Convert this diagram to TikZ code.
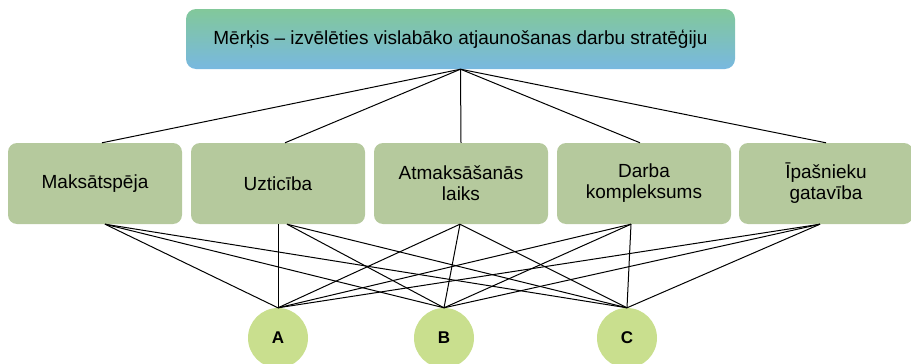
\documentclass[tikz,border=0pt]{standalone}
\usepackage{fontspec}
\setmainfont{Liberation Sans}
\definecolor{topgreen}{HTML}{82C89A}
\definecolor{topblue}{HTML}{78B8E0}
\definecolor{critfill}{HTML}{B5C99D}
\definecolor{altfill}{HTML}{C9DF8E}
\tikzset{
  goalbox/.style={rounded corners=10pt, top color=topgreen, bottom color=topblue, draw=none,
    minimum width=549pt, minimum height=60pt, inner sep=0pt,
    font=\fontsize{19}{21}\selectfont},
  critbox/.style={rounded corners=9pt, fill=critfill, draw=none,
    minimum width=174pt, minimum height=81pt, inner sep=0pt, align=center,
    font=\fontsize{19}{21}\selectfont},
  altnode/.style={circle, fill=altfill, draw=none, minimum size=60pt, inner sep=0pt,
    font=\fontsize{17}{20}\selectfont\bfseries},
  link/.style={draw=black, line width=1pt}
}
\begin{document}
\begin{tikzpicture}[x=1pt,y=-1pt]
\useasboundingbox (0,0) rectangle (911,364);
\node[goalbox] (goal) at (460.5,39) {Mērķis – izvēlēties vislabāko atjaunošanas darbu stratēģiju};
\node[critbox] (c1) at (95,183.5) {Maksātspēja};
\node[critbox] (c2) at (278,183.5) {Uzticība};
\node[critbox] (c3) at (461,183.5) {Atmaksāšanās\\laiks};
\node[critbox] (c4) at (644,183.5) {Darba\\kompleksums};
\node[critbox] (c5) at (826,183.5) {Īpašnieku\\gatavība};
\node[altnode] (a) at (278,338) {A};
\node[altnode] (b) at (444,338) {B};
\node[altnode] (c) at (627,338) {C};
% top connectors
\draw[link] (goal.south) -- ([xshift=7pt]c1.north);
\draw[link] (goal.south) -- ([xshift=7pt]c2.north);
\draw[link] (goal.south) -- (c3.north);
\draw[link] (goal.south) -- ([xshift=-4pt]c4.north);
\draw[link] (goal.south) -- (c5.north);
% bottom connectors
\foreach \m in {a,b,c} {
  \draw[link] ([xshift=10pt]c1.south) -- (\m.north);
  \draw[link] ([xshift=-1pt]c3.south) -- (\m.north);
  \draw[link] ([xshift=-13pt]c4.south) -- (\m.north);
  \draw[link] ([xshift=-6pt]c5.south) -- (\m.north);
}
\draw[link] (c2.south) -- (a.north);
\draw[link] ([xshift=9pt]c2.south) -- (b.north);
\draw[link] ([xshift=9pt]c2.south) -- (c.north);
\end{tikzpicture}
\end{document}
